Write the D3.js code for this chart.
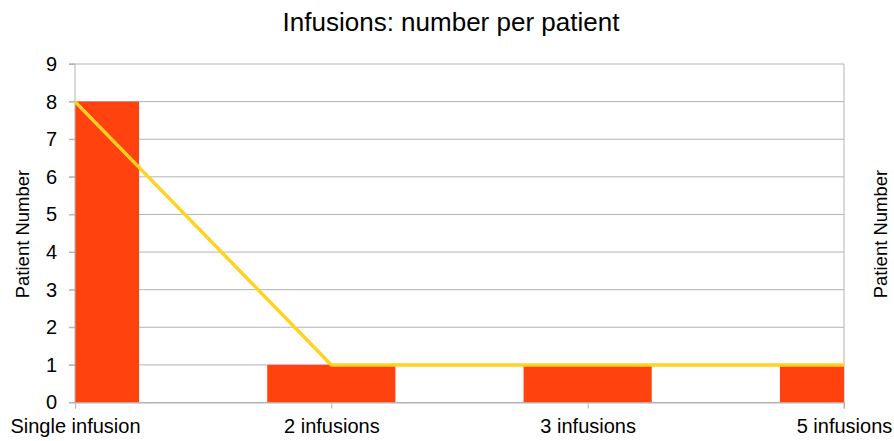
<!DOCTYPE html>
<html><head><meta charset="utf-8">
<script src="https://cdn.jsdelivr.net/npm/d3@7"></script>
<style>body{margin:0;background:#fff}svg{display:block;font-family:"Liberation Sans",Arial,sans-serif}</style>
</head><body><svg id="c" width="894" height="441"></svg>
<script>
const categories = ["Single infusion", "2 infusions", "3 infusions", "5 infusions"];
const barValues = [8, 1, 1, 1];
const lineValues = [8, 1, 1, 1];
const yTicks = [0,1,2,3,4,5,6,7,8,9];
const title = "Infusions: number per patient";
const yTitle = "Patient Number";

const svg = d3.select("#c");
const L = 75, R = 844, T = 64, B = 402.5;
const x = d3.scalePoint().domain(categories).range([L, R]);
const y = d3.scaleLinear().domain([0, 9]).range([B, T]);
const bw = x.step() / 2;
const FF = "'Liberation Sans', Arial, sans-serif";

svg.append("g").selectAll("line").data(yTicks).join("line")
  .attr("x1", L - 6).attr("x2", R).attr("y1", d => y(d)).attr("y2", d => y(d))
  .attr("stroke", "#b3b3b3").attr("stroke-width", 1);
svg.append("line").attr("x1", R).attr("x2", R).attr("y1", T).attr("y2", B + 6)
  .attr("stroke", "#b3b3b3");

svg.append("defs").append("clipPath").attr("id", "clip")
  .append("rect").attr("x", L).attr("y", T).attr("width", R - L).attr("height", B - T);

svg.append("g").attr("clip-path", "url(#clip)").selectAll("rect").data(barValues).join("rect")
  .attr("x", (d, i) => x(categories[i]) - bw / 2).attr("width", bw)
  .attr("y", d => y(d)).attr("height", d => B - y(d))
  .attr("fill", "#ff420e");

const yAxis = d3.axisLeft(y).tickValues(yTicks).tickSize(6).tickPadding(12);
const gy = svg.append("g").attr("transform", `translate(${L},0)`).call(yAxis);
gy.select(".domain").attr("stroke", "#b3b3b3").attr("d", `M-6,${B}H0V${T}H-6`);
gy.selectAll(".tick line").attr("stroke", "#b3b3b3");
gy.selectAll("text").attr("font-size", 20).attr("fill", "#000").attr("font-family", FF);

const xAxis = d3.axisBottom(x).tickSize(6).tickPadding(10);
const gx = svg.append("g").attr("transform", `translate(0,${B})`).call(xAxis);
gx.select(".domain").attr("stroke", "#b3b3b3");
gx.selectAll(".tick line").attr("stroke", "#b3b3b3");
gx.selectAll("text").attr("font-size", 20).attr("fill", "#000").attr("font-family", FF);

svg.append("path").datum(lineValues)
  .attr("d", d3.line().x((d, i) => x(categories[i])).y(d => y(d)))
  .attr("fill", "none").attr("stroke", "#ffd320").attr("stroke-width", 3.5);

svg.append("text").attr("x", 451).attr("y", 31).attr("text-anchor", "middle")
  .attr("font-size", 26).attr("font-family", FF).text(title);
svg.append("text").attr("transform", "translate(29,234) rotate(-90)").attr("text-anchor", "middle")
  .attr("font-size", 18.5).attr("font-family", FF).text(yTitle);
svg.append("text").attr("transform", "translate(887,234) rotate(-90)").attr("text-anchor", "middle")
  .attr("font-size", 18.5).attr("font-family", FF).text(yTitle);
</script></body></html>
